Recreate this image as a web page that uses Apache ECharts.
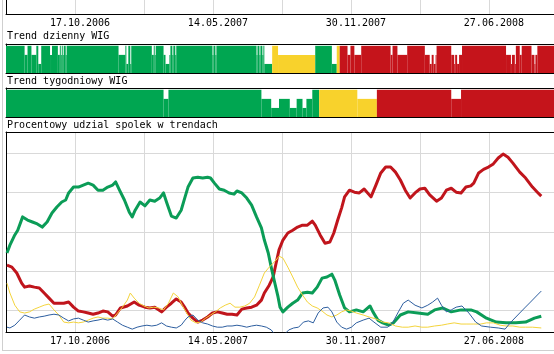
<!DOCTYPE html>
<html>
<head>
<meta charset="utf-8">
<script src="https://cdn.jsdelivr.net/npm/echarts@6/dist/echarts.min.js"></script>
<style>
  html, body { margin: 0; padding: 0; background: #fff; }
  #chart { width: 554px; height: 354px; }
</style>
</head>
<body>
<div id="chart"></div>
<script>
// dates shown under every second vertical gridline (one gridline = 70.5 sessions)
var dateLabels = ['17.10.2006', '14.05.2007', '30.11.2007', '27.06.2008'];
var yGrid = [10, 20, 30, 40, 50];

// procentowy udzial spolek w trendach: [session, %]
var upShare = [
  [1, 24.6], [4, 26.6], [9, 29.2], [12, 30.4], [17, 33.8], [22, 33.0], [27, 32.5], [32, 32.0],
  [37, 31.2], [42, 32.5], [47, 34.8], [52, 36.3], [57, 37.6], [61, 38.1], [64, 39.9], [69, 41.4],
  [74, 41.4], [79, 41.9], [84, 42.4], [89, 41.9], [94, 40.6], [99, 40.6], [104, 41.4], [109, 41.9],
  [112, 42.7], [116, 40.6], [121, 38.1], [126, 35.0], [129, 33.8], [132, 35.5], [137, 37.6], [142, 36.6],
  [147, 38.1], [152, 37.8], [157, 38.6], [161, 39.9], [164, 37.6], [169, 34.0], [174, 33.5], [179, 35.5],
  [183, 38.9], [186, 41.4], [191, 43.7], [196, 43.9], [201, 43.7], [206, 43.9], [209, 43.7], [213, 42.4],
  [218, 40.9], [223, 40.6], [228, 39.9], [233, 39.6], [236, 40.4], [241, 39.9], [246, 38.6], [251, 36.8],
  [256, 33.8], [261, 31.0], [264, 27.9], [268, 24.6], [271, 21.0], [274, 17.7], [278, 13.4], [280, 10.8],
  [283, 9.6], [288, 10.8], [293, 11.8], [298, 12.6], [303, 14.4], [308, 14.6], [313, 14.4], [318, 15.9],
  [323, 18.2], [328, 18.5], [333, 19.2], [336, 17.7], [341, 13.9], [346, 10.6], [351, 9.6], [358, 10.1],
  [365, 9.6], [372, 11.1], [375, 9.6], [380, 7.5], [385, 6.8], [391, 6.2], [396, 6.8], [403, 8.8],
  [411, 9.6], [421, 9.3], [431, 9.0], [438, 10.1], [446, 10.6], [455, 9.6], [465, 10.1], [475, 10.1],
  [481, 9.6], [491, 8.0], [501, 7.0], [511, 6.8], [521, 6.8], [531, 7.0], [540, 8.0], [547, 8.5]
];
var downShare = [
  [1, 21.5], [6, 21.0], [11, 19.5], [16, 16.9], [19, 15.9], [24, 16.2], [29, 15.9], [34, 15.7],
  [39, 14.4], [44, 13.1], [49, 11.8], [54, 11.8], [59, 11.8], [64, 12.1], [69, 10.8], [74, 9.8],
  [79, 9.6], [84, 9.3], [89, 9.0], [94, 9.3], [99, 9.8], [104, 9.6], [109, 8.5], [112, 8.8],
  [117, 10.6], [124, 11.1], [131, 12.1], [136, 11.3], [142, 10.8], [147, 10.6], [152, 10.8], [159, 9.6],
  [164, 10.8], [169, 11.8], [174, 12.9], [179, 12.1], [183, 10.6], [186, 9.3], [191, 8.0], [196, 7.0],
  [201, 7.5], [206, 8.3], [211, 9.3], [216, 9.6], [221, 9.3], [226, 9.0], [231, 9.0], [236, 8.8],
  [241, 10.3], [246, 10.6], [251, 10.8], [256, 11.3], [261, 12.6], [264, 14.4], [269, 16.4], [273, 18.5],
  [276, 22.0], [279, 25.4], [283, 27.9], [288, 29.7], [293, 30.4], [298, 31.2], [303, 31.7], [308, 31.7],
  [313, 32.7], [316, 31.7], [321, 29.2], [326, 27.1], [331, 27.4], [335, 29.7], [339, 33.0], [343, 36.1],
  [346, 38.9], [351, 40.6], [356, 40.1], [361, 39.9], [366, 40.9], [373, 38.9], [378, 41.9], [383, 45.0],
  [388, 46.5], [393, 46.5], [398, 45.2], [403, 43.2], [408, 40.6], [413, 38.6], [418, 39.9], [423, 40.9],
  [428, 41.1], [433, 39.4], [440, 37.8], [445, 38.6], [450, 40.6], [455, 41.1], [460, 40.1], [465, 39.9],
  [470, 41.4], [475, 41.7], [478, 42.4], [483, 45.0], [488, 45.9], [493, 46.5], [498, 47.3], [503, 48.8],
  [508, 49.8], [513, 49.0], [518, 47.5], [525, 45.2], [531, 43.7], [538, 41.4], [543, 40.1], [547, 39.1]
];
var sideShare = [
  [1, 16.9], [4, 14.4], [9, 11.3], [14, 9.6], [19, 9.3], [24, 9.6], [29, 10.3], [34, 10.8],
  [39, 11.3], [44, 11.6], [49, 10.1], [54, 8.8], [59, 7.0], [64, 6.8], [69, 7.0], [74, 6.8],
  [79, 7.0], [84, 7.5], [89, 8.0], [94, 8.3], [99, 8.0], [104, 8.0], [109, 7.8], [114, 9.3],
  [119, 10.8], [124, 12.6], [127, 14.4], [131, 13.1], [136, 11.8], [141, 11.1], [146, 10.6], [151, 10.8],
  [156, 10.6], [161, 10.1], [166, 11.8], [171, 14.4], [176, 13.4], [180, 11.3], [184, 9.6], [189, 7.5],
  [194, 6.8], [199, 7.0], [204, 8.0], [209, 8.8], [214, 9.6], [219, 10.6], [224, 11.3], [229, 11.8],
  [234, 10.8], [239, 10.8], [244, 11.1], [249, 11.8], [254, 13.4], [259, 16.4], [264, 19.5], [269, 21.0],
  [273, 22.0], [276, 22.8], [279, 23.8], [283, 23.3], [288, 21.0], [293, 18.5], [298, 15.9], [303, 13.9],
  [308, 12.1], [313, 11.1], [318, 10.6], [323, 9.8], [328, 8.8], [333, 8.3], [338, 8.8], [343, 9.6],
  [348, 10.1], [353, 9.8], [358, 9.3], [365, 8.8], [371, 8.3], [378, 7.8], [385, 7.0], [391, 6.8],
  [398, 6.0], [405, 5.7], [411, 5.7], [418, 6.0], [425, 5.7], [431, 5.7], [438, 6.0], [445, 6.2],
  [451, 6.5], [458, 6.8], [465, 6.5], [471, 6.5], [478, 6.5], [485, 6.5], [491, 6.8], [498, 6.8],
  [505, 6.2], [511, 6.0], [518, 6.0], [525, 5.7], [531, 5.7], [538, 5.7], [547, 5.5]
];
var otherShare = [
  [1, 5.7], [4, 5.5], [9, 6.2], [14, 7.5], [19, 8.8], [24, 8.3], [29, 8.0], [34, 8.3],
  [39, 8.5], [44, 8.8], [49, 9.0], [54, 8.8], [59, 8.0], [64, 7.3], [69, 7.8], [74, 8.0],
  [79, 7.5], [84, 7.0], [89, 7.3], [94, 7.5], [99, 7.8], [104, 7.5], [109, 7.8], [114, 7.0],
  [119, 6.2], [124, 5.7], [129, 5.2], [134, 5.7], [139, 6.0], [144, 6.2], [149, 6.0], [154, 6.2],
  [159, 6.8], [164, 6.0], [169, 5.7], [174, 5.5], [179, 6.2], [183, 7.5], [186, 8.3], [191, 8.8],
  [196, 7.5], [201, 6.8], [206, 6.5], [211, 6.0], [216, 5.7], [221, 5.7], [226, 6.0], [231, 6.0],
  [236, 6.2], [241, 6.0], [246, 5.7], [251, 6.0], [256, 6.2], [261, 6.0], [266, 5.7], [271, 5.0],
  [275, 3.7], [280, 3.4], [285, 4.0], [289, 5.0], [294, 5.5], [299, 5.7], [304, 7.0], [309, 7.3],
  [314, 6.8], [319, 9.3], [324, 10.6], [329, 10.8], [333, 9.6], [338, 7.0], [343, 5.7], [348, 5.2],
  [353, 5.7], [358, 6.8], [365, 7.5], [371, 8.0], [376, 7.0], [383, 5.7], [390, 5.7], [395, 6.8],
  [401, 9.6], [406, 11.8], [411, 12.6], [418, 11.3], [425, 10.6], [431, 11.3], [436, 12.1], [441, 13.1],
  [445, 11.3], [450, 9.6], [455, 10.1], [460, 10.8], [466, 11.1], [473, 9.3], [480, 7.0], [486, 6.0],
  [495, 5.7], [503, 5.5], [510, 5.2], [516, 7.0], [523, 8.8], [530, 10.6], [536, 12.1], [543, 13.9],
  [547, 14.9]
];

// trend WIG: colour runs [from, to, trend] and weaker bars [from, to, strength 1..3]
var trendCodes = ['up', 'side', 'down'];
var dailyTrend = [[0, 272, 'up'], [272, 316, 'side'], [316, 338, 'up'], [338, 341, 'side'], [341, 560, 'down']];
var dailyLevel = [
  [19, 22, 2], [26, 31, 2], [33, 36, 1], [45, 47, 2], [53, 55, 2], [56, 57, 2], [58, 59, 2], [61, 62, 2],
  [115, 122, 2], [123, 125, 1], [127, 128, 1], [149, 151, 2], [152, 153, 2], [161, 163, 2], [163, 167, 1],
  [167, 168, 2], [170, 171, 2], [173, 174, 2], [211, 212, 2], [214, 215, 2], [256, 257, 2], [259, 260, 2],
  [262, 263, 2], [264, 272, 1], [278, 316, 2], [333, 338, 1], [349, 352, 2], [356, 363, 2], [393, 395, 2],
  [400, 410, 2], [428, 440, 2], [433, 435, 1], [437, 439, 1], [455, 466, 2], [458, 459, 1], [461, 463, 1],
  [511, 521, 2], [516, 517, 1], [520, 521, 1], [525, 527, 2], [537, 543, 2], [540, 541, 1]
];
var weeklyTrend = [[0, 320, 'up'], [320, 379, 'side'], [379, 560, 'down']];
var weeklyLevel = [
  [161, 166, 2], [261, 271, 2], [271, 279, 1], [279, 290, 2], [290, 297, 1], [297, 303, 2],
  [303, 307, 1], [307, 313, 2], [359, 379, 2], [455, 465, 2]
];

var SESSIONS = 560;
var FONT = "'DejaVu Sans Mono', monospace";
var trendColors = ['#00a651', '#f8d22c', '#c5141b'];

// turn runs into blocks [from, to, strength, trendCode]
function buildBlocks(trendRuns, levelRuns) {
  var trend = [], level = [];
  trendRuns.forEach(function (r) {
    for (var d = r[0]; d < r[1]; d++) trend[d] = trendCodes.indexOf(r[2]);
  });
  for (var d = 0; d < SESSIONS; d++) level[d] = 3;
  levelRuns.forEach(function (r) {
    for (var d = r[0]; d < r[1]; d++) level[d] = r[2];
  });
  var blocks = [], start = 0;
  for (var i = 1; i <= SESSIONS; i++) {
    if (i === SESSIONS || trend[i] !== trend[start] || level[i] !== level[start]) {
      blocks.push([start, i, level[start], trend[start]]);
      start = i;
    }
  }
  return blocks;
}

function renderBlock(params, api) {
  var p0 = api.coord([api.value(0), api.value(2)]);
  var p1 = api.coord([api.value(1), 0]);
  return {
    type: 'rect',
    shape: { x: p0[0], y: p0[1], width: p1[0] - p0[0], height: p1[1] - p0[1] },
    style: { fill: trendColors[api.value(3)] }
  };
}

function xAxis(grid, position, withLabels) {
  return {
    gridIndex: grid,
    type: 'value',
    position: position,
    min: 0,
    max: SESSIONS,
    interval: 70.5,
    axisLine: { show: true, onZero: false, lineStyle: { color: '#000', width: 1 } },
    axisTick: { show: false },
    splitLine: { show: withLabels, lineStyle: { color: '#d9d9d9', width: 1 } },
    axisLabel: {
      show: withLabels,
      interval: 0,
      margin: 4,
      showMaxLabel: false,
      padding: [0, 0, 0, 10],
      color: '#000',
      fontFamily: FONT,
      fontSize: 10,
      formatter: function (v) {
        var k = Math.round(v / 70.5);
        return k % 2 === 1 ? (dateLabels[(k - 1) / 2] || '') : '';
      }
    }
  };
}

function yAxis(grid, min, max, split) {
  return {
    gridIndex: grid,
    type: 'value',
    min: min,
    max: max,
    axisLine: { show: true, lineStyle: { color: '#000', width: 1 } },
    axisTick: { show: false, customValues: split ? yGrid : undefined },
    axisLabel: { show: false },
    splitLine: { show: !!split, lineStyle: { color: '#d9d9d9', width: 1 } }
  };
}

function shareLine(name, data, color, width) {
  return {
    name: name,
    type: 'line',
    xAxisIndex: 5,
    yAxisIndex: 3,
    data: data,
    showSymbol: false,
    clip: true,
    lineStyle: { color: color, width: width, join: 'round' },
    z: 3
  };
}

var chart = echarts.init(document.getElementById('chart'));
var titleStyle = { fontFamily: FONT, fontSize: 10, fontWeight: 'normal', color: '#000' };

chart.setOption({
  animation: false,
  backgroundColor: '#fff',
  title: [
    { text: 'Trend dzienny WIG', left: 7, top: 31, padding: 0, textStyle: titleStyle },
    { text: 'Trend tygodniowy WIG', left: 7, top: 76, padding: 0, textStyle: titleStyle },
    { text: 'Procentowy udzial spolek w trendach', left: 7, top: 120, padding: 0, textStyle: titleStyle }
  ],
  grid: [
    { left: 6, top: -20, width: SESSIONS, height: 34 },
    { left: 6, top: 44, width: SESSIONS, height: 29 },
    { left: 6, top: 88, width: SESSIONS, height: 29 },
    { left: 6, top: 132, width: SESSIONS, height: 200 }
  ],
  xAxis: [
    xAxis(0, 'bottom', true),
    xAxis(1, 'bottom', false),
    xAxis(1, 'top', false),
    xAxis(2, 'bottom', false),
    xAxis(2, 'top', false),
    xAxis(3, 'bottom', true),
    xAxis(3, 'top', false)
  ],
  yAxis: [
    yAxis(0, 0, 1, false),
    yAxis(1, 0, 3.2, false),
    yAxis(2, 0, 3.2, false),
    yAxis(3, 4.47, 55.43, true)
  ],
  graphic: [
    { type: 'line', shape: { x1: 2.5, y1: 0, x2: 2.5, y2: 351 }, style: { stroke: '#cfcfcf', lineWidth: 1 }, silent: true },
    { type: 'line', shape: { x1: 2, y1: 350.5, x2: 554, y2: 350.5 }, style: { stroke: '#cfcfcf', lineWidth: 1 }, silent: true }
  ],
  series: [
    {
      name: 'Trend dzienny WIG',
      type: 'custom',
      xAxisIndex: 1,
      yAxisIndex: 1,
      renderItem: renderBlock,
      encode: { x: [0, 1], y: 2 },
      data: buildBlocks(dailyTrend, dailyLevel),
      z: 1
    },
    {
      name: 'Trend tygodniowy WIG',
      type: 'custom',
      xAxisIndex: 3,
      yAxisIndex: 2,
      renderItem: renderBlock,
      encode: { x: [0, 1], y: 2 },
      data: buildBlocks(weeklyTrend, weeklyLevel),
      z: 1
    },
    shareLine('spadkowy', downShare, '#c0151c', 3),
    shareLine('wzrostowy', upShare, '#0b9c57', 3),
    shareLine('boczny', sideShare, '#f4d43c', 1),
    shareLine('inne', otherShare, '#2d5e9f', 1)
  ]
});
</script>
</body>
</html>
